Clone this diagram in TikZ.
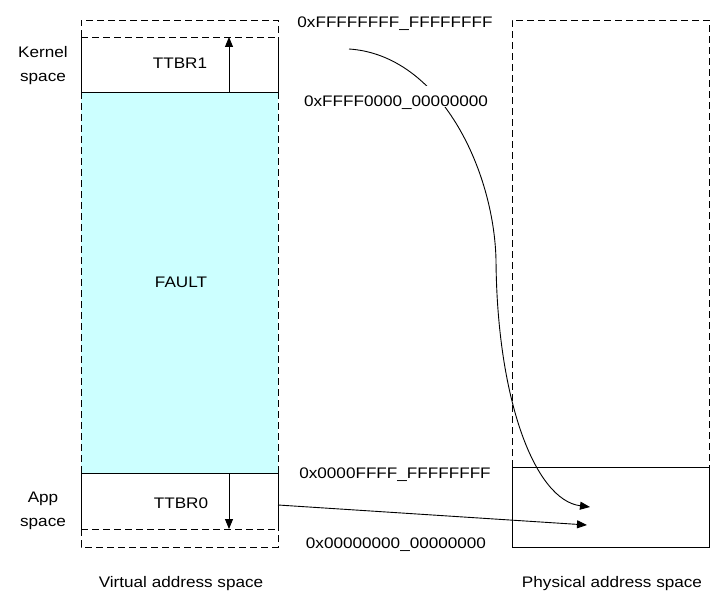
\documentclass[tikz,border=0pt]{standalone}
\usepackage{fontspec}
\setmainfont{Liberation Sans}[FakeStretch=1.12]
\usetikzlibrary{arrows.meta}
\definecolor{faultcyan}{HTML}{CCFFFF}
\begin{document}
\begin{tikzpicture}[x=1bp,y=-1bp,
  lbl/.style={font=\fontsize{15.3bp}{24bp}\selectfont, inner sep=0pt},
  solidline/.style={line width=0.9bp},
  dashline/.style={line width=0.9bp, dash pattern=on 7bp off 4bp},
  arr/.style={line width=0.9bp, -{Triangle[length=10bp,width=8bp]}},
]
\useasboundingbox (0,0) rectangle (728,605);
% fault area
\fill[faultcyan] (81,92) rectangle (278,473);
% virtual address column
\draw[dashline] (81,37) -- (81,20) -- (278,20) -- (278,37);
\draw[dashline] (81,37) -- (278,37);
\draw[solidline] (81,37) -- (81,92) -- (278,92) -- (278,37);
\draw[dashline] (81,92) -- (81,473);
\draw[dashline] (278,92) -- (278,473);
\draw[solidline] (81,529) -- (81,473) -- (278,473) -- (278,529);
\draw[dashline] (81,529) -- (278,529);
\draw[dashline] (81,529) -- (81,547) -- (278,547) -- (278,529);
% physical address column
\draw[dashline] (512,467) -- (512,20) -- (709,20) -- (709,467);
\draw[solidline] (512,467) rectangle (709,547);
% named coordinates for connectors
\coordinate (t1s) at (229,92);
\coordinate (t1e) at (229,37);
\coordinate (t0s) at (229,473);
\coordinate (t0e) at (229,529);
\coordinate (ks) at (349,49);
\coordinate (km) at (496,260);
\coordinate (ke) at (590,507);
\coordinate (as) at (278,505);
\coordinate (ae) at (587,525);
% connectors
\draw[arr] (t1s) -- (t1e);
\draw[arr] (t0s) -- (t0e);
\draw[arr] (as) -- (ae);
\draw[arr] (ks) .. controls (440,55) and (494,170) .. (km)
           .. controls (497,400) and (535,500) .. (ke);
% labels
\node[lbl, align=center] (kern) at (43,66) {Kernel\\space};
\node[lbl, align=center] (app) at (43,511) {App\\space};
\node[lbl, anchor=base] (ttbr1) at (180,69) {TTBR1};
\node[lbl, anchor=base] (fault) at (181,287.5) {FAULT};
\node[lbl, anchor=base] (ttbr0) at (181,508.3) {TTBR0};
\node[lbl, anchor=base] (hexA) at (395,27.5) {0xFFFFFFFF\_FFFFFFFF};
\node[lbl, anchor=base, fill=white, text height=21bp, text depth=0bp] (hexB) at (396,107) {0xFFFF0000\_00000000};
\node[lbl, anchor=base] (hexC) at (395,478.5) {0x0000FFFF\_FFFFFFFF};
\node[lbl, anchor=base] (hexD) at (396,548) {0x00000000\_00000000};
\node[lbl, anchor=base] (vas) at (181,587) {Virtual address space};
\node[lbl, anchor=base] (pas) at (612,587) {Physical address space};
\end{tikzpicture}
\end{document}
